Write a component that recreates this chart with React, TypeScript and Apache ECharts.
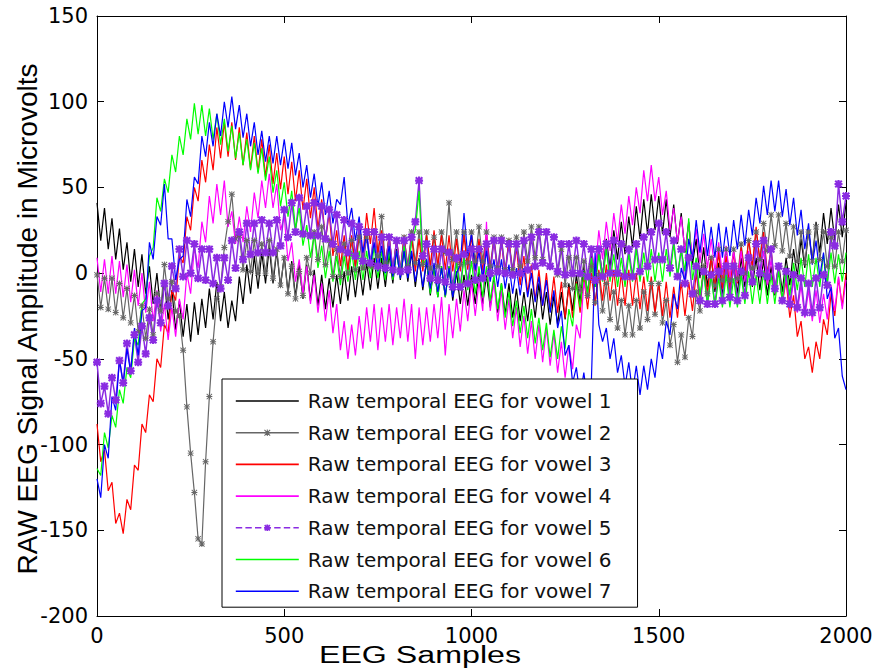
import React, { useEffect, useRef } from "react";
import * as echarts from "echarts";

const SAMPLES = [
  0, 10, 20, 30, 40, 50, 60, 70, 80, 90, 100, 110, 120, 130, 140, 150, 160, 170, 180, 190,
  200, 210, 220, 230, 240, 250, 260, 270, 280, 290, 300, 310, 320, 330, 340, 350, 360, 370, 380, 390,
  400, 410, 420, 430, 440, 450, 460, 470, 480, 490, 500, 510, 520, 530, 540, 550, 560, 570, 580, 590,
  600, 610, 620, 630, 640, 650, 660, 670, 680, 690, 700, 710, 720, 730, 740, 750, 760, 770, 780, 790,
  800, 810, 820, 830, 840, 850, 860, 870, 880, 890, 900, 910, 920, 930, 940, 950, 960, 970, 980, 990,
  1000, 1010, 1020, 1030, 1040, 1050, 1060, 1070, 1080, 1090, 1100, 1110, 1120, 1130, 1140, 1150, 1160, 1170, 1180, 1190,
  1200, 1210, 1220, 1230, 1240, 1250, 1260, 1270, 1280, 1290, 1300, 1310, 1320, 1330, 1340, 1350, 1360, 1370, 1380, 1390,
  1400, 1410, 1420, 1430, 1440, 1450, 1460, 1470, 1480, 1490, 1500, 1510, 1520, 1530, 1540, 1550, 1560, 1570, 1580, 1590,
  1600, 1610, 1620, 1630, 1640, 1650, 1660, 1670, 1680, 1690, 1700, 1710, 1720, 1730, 1740, 1750, 1760, 1770, 1780, 1790,
  1800, 1810, 1820, 1830, 1840, 1850, 1860, 1870, 1880, 1890, 1900, 1910, 1920, 1930, 1940, 1950, 1960, 1970, 1980, 1990,
  2000,
];

const VOWEL1 = [
  41, 19, 38, 14, 32, 8, 26, 2, 18, -5, 14, -8, 11, -12, 4, -18, 0, -22, -4, -27,
  -10, -33, -16, -37, -18, -40, -17, -36, -15, -32, -9, -27, -5, -28, -11, -32, -16, -28, -2, -18,
  5, -12, 10, -9, 12, -6, 15, -6, 13, -8, 10, -11, 7, -14, 5, -15, 5, -16, 2, -19,
  -1, -21, -3, -20, -1, -18, 1, -16, 4, -14, 4, -13, 6, -10, 9, -9, 9, -8, 11, -6,
  14, -4, 14, -5, 12, -8, 9, -10, 7, -13, 4, -14, 4, -14, 4, -16, 1, -18, -1, -19,
  -1, -18, 1, -18, -1, -20, -3, -23, -6, -24, -6, -26, -9, -28, -11, -28, -9, -26, -6, -27,
  -11, -30, -13, -30, -11, -27, -6, -22, -1, -17, 4, -12, 10, -8, 15, -2, 20, 3, 25, 8,
  30, 11, 33, 15, 39, 20, 43, 23, 46, 25, 45, 23, 43, 21, 40, 17, 35, 12, 30, 5,
  20, -3, 15, -8, 10, -11, 6, -13, 4, -14, 5, -12, 9, -8, 11, -8, 9, -10, 8, -13,
  4, -13, 6, -11, 9, -7, 14, -2, 20, 3, 25, 7, 30, 12, 35, 17, 38, 19, 40, 21,
  41,
];

const VOWEL2 = [
  -1, -20, -3, -21, -3, -23, -6, -26, -9, -29, -13, -34, -19, -38, -21, -36, -12, -22, 5, -15,
  -5, -22, -25, -45, -78, -105, -128, -155, -158, -110, -72, -40, -15, -8, 15, 30, 46, 20, 22, 2,
  19, 1, 19, 0, 17, 0, 19, -3, 14, -7, 9, -12, 4, -15, 1, -13, 9, 0, 24, 8,
  27, 5, 19, -2, 14, -2, 17, 0, 19, 2, 21, 3, 21, 4, 24, 10, 33, 6, 21, 2,
  19, 2, 21, 4, 24, 6, 24, 5, 24, 3, 21, 4, 24, 12, 41, 8, 24, 5, 24, 6,
  24, 7, 27, 7, 24, 4, 21, 3, 21, 2, 19, 2, 21, 4, 24, 7, 27, 9, 27, 8,
  24, 4, 21, -1, 14, -7, 9, -9, 9, -10, 7, -13, 4, -17, -1, -22, -6, -27, -11, -32,
  -16, -36, -19, -36, -16, -32, -11, -27, -6, -24, -6, -29, -16, -42, -30, -52, -36, -49, -26, -37,
  -11, -22, 4, -12, 9, -7, 14, -4, 14, -4, 14, -3, 17, 0, 19, 3, 24, 8, 29, 13,
  34, 16, 34, 13, 29, 10, 27, 7, 24, 6, 24, 7, 27, 8, 24, 4, 21, 4, 24, 7,
  25,
];

const VOWEL3 = [
  -88, -110, -103, -127, -122, -146, -140, -152, -132, -138, -112, -115, -88, -93, -71, -75, -50, -55, -30, -35,
  -10, -16, 10, 6, 33, 25, 50, 42, 66, 53, 75, 60, 85, 67, 88, 68, 88, 66, 85, 63,
  82, 61, 80, 59, 78, 56, 75, 52, 70, 49, 68, 46, 65, 42, 60, 37, 55, 32, 50, 26,
  43, 19, 35, 10, 25, 4, 22, 2, 22, 4, 25, 10, 35, 17, 38, 12, 25, 4, 22, 1,
  20, 1, 22, 2, 22, 1, 20, 1, 22, 4, 25, 4, 22, 2, 22, 1, 20, 1, 22, 2,
  22, 1, 20, 1, 22, 1, 20, -1, 18, -1, 20, -2, 15, -7, 10, -12, 5, -16, 2, -19,
  0, -21, -2, -23, -5, -26, -8, -26, -5, -23, -2, -21, 0, -19, 2, -16, 5, -16, 2, -19,
  0, -19, 2, -19, 0, -21, -2, -22, -2, -23, -5, -25, -5, -26, -8, -26, -5, -25, -5, -22,
  0, -17, 5, -12, 10, -9, 12, -9, 10, -9, 12, -6, 15, -2, 20, 4, 27, 7, 24, 0,
  14, -10, 4, -18, -4, -26, -13, -37, -28, -50, -43, -58, -40, -50, -27, -36, -12, -25, -3, -19,
  0,
];

const VOWEL4 = [
  9, -11, 8, -12, 10, -12, 7, -14, 5, -17, 2, -19, 0, -23, -5, -28, -10, -34, -18, -39,
  -20, -37, -15, -27, 0, -12, 15, 3, 30, 18, 45, 29, 52, 34, 54, 27, 36, 17, 33, 18,
  39, 24, 47, 32, 54, 38, 58, 38, 52, 25, 33, 7, 18, -5, 8, -12, 4, -18, -1, -23,
  -6, -28, -10, -35, -18, -45, -28, -50, -30, -48, -25, -44, -20, -40, -18, -45, -20, -40, -18, -42,
  -20, -38, -15, -40, -18, -50, -20, -42, -20, -40, -18, -38, -14, -48, -18, -38, -15, -34, -10, -28,
  -5, -25, -5, -22, 30, -22, -5, -28, -10, -33, -15, -38, -20, -43, -25, -47, -28, -50, -30, -52,
  -32, -54, -35, -58, -40, -61, -42, -56, -30, -38, -5, -15, 15, 0, 25, 8, 30, 13, 35, 18,
  40, 23, 45, 28, 50, 35, 60, 42, 63, 42, 56, 34, 48, 25, 38, 18, 33, 13, 28, 9,
  26, 6, 23, 3, 20, 1, 18, -1, 16, -3, 13, -5, 13, -5, 13, -4, 16, -3, 13, -7,
  8, -12, 3, -17, -2, -21, -4, -23, -7, -26, -10, -28, -10, -29, -12, -27, -7, -22, -2, -21,
  -4,
];

const VOWEL5 = [
  -52, -76, -66, -82, -61, -74, -51, -64, -41, -57, -36, -52, -31, -47, -26, -39, -16, -29, -6, -19,
  4, -9, 14, -2, 19, 0, 17, -3, 14, -4, 14, -6, 9, -9, 9, -4, 19, 3, 24, 8,
  29, 11, 29, 12, 31, 12, 29, 12, 31, 16, 37, 21, 41, 24, 44, 23, 39, 22, 41, 22,
  39, 20, 37, 17, 34, 14, 31, 12, 29, 10, 27, 7, 24, 6, 24, 4, 21, 3, 21, 2,
  19, 1, 19, 2, 21, 30, 54, 10, 17, -3, 14, -4, 14, -5, 12, -8, 9, -8, 11, -6,
  14, -4, 14, -3, 17, 0, 19, 1, 19, 0, 17, -1, 17, 0, 19, 2, 21, 4, 24, 6,
  24, 4, 21, 1, 17, -1, 17, 0, 19, 0, 17, -2, 14, -4, 14, -2, 17, 0, 19, 0,
  17, -2, 14, -2, 17, 1, 21, 4, 24, 8, 29, 8, 24, 3, 19, -2, 14, -6, 9, -12,
  4, -16, 1, -18, -1, -18, 1, -16, 4, -14, 4, -16, 1, -13, 9, -5, 17, 0, 19, -2,
  14, -9, 4, -16, 1, -18, -1, -20, -3, -23, -6, -23, -3, -20, -1, -7, 24, 16, 52, 30,
  45,
];

const VOWEL6 = [
  -114, -118, -93, -102, -83, -90, -68, -76, -55, -61, -38, -42, -18, -15, 10, 15, 44, 36, 55, 47,
  69, 59, 80, 69, 90, 78, 99, 81, 98, 80, 96, 78, 93, 75, 90, 71, 86, 67, 82, 63,
  78, 60, 76, 58, 73, 54, 68, 47, 60, 39, 53, 33, 48, 26, 38, 16, 28, 9, 23, 3,
  16, -3, 13, -5, 10, -7, 10, -5, 13, -4, 13, -4, 13, -3, 16, -3, 13, -4, 13, -4,
  13, -3, 16, 0, 18, 25, 48, 5, 8, -12, 4, -14, 4, -14, 4, -13, 6, -10, 9, -10,
  7, -12, 4, -14, 4, -16, -1, -21, -6, -26, -11, -31, -16, -35, -19, -38, -21, -41, -26, -45,
  -29, -49, -33, -50, -31, -44, -21, -31, -6, -20, 1, -13, 9, -8, 11, -5, 14, -5, 11, -8,
  9, -8, 11, -5, 14, -5, 12, -5, 14, -5, 12, -5, 14, -2, 17, -2, 14, 1, 32, -4,
  9, -13, 1, -18, -1, -20, -3, -20, -1, -20, -3, -20, -1, -18, 1, -18, -1, -18, 1, -18,
  -1, -18, 1, -15, 4, -13, 6, -10, 9, -8, 11, -8, 9, -8, 11, -6, 12, -6, 11, -5,
  12,
];

const VOWEL7 = [
  -120, -131, -100, -108, -72, -80, -50, -65, -44, -58, -32, -48, -22, -20, 18, 8, 33, 28, 52, 20,
  20, -4, 8, 10, 43, 33, 56, 52, 80, 68, 88, 74, 93, 80, 100, 85, 103, 84, 98, 79,
  93, 74, 88, 69, 83, 65, 80, 64, 80, 63, 78, 61, 76, 57, 70, 50, 63, 44, 58, 39,
  53, 34, 48, 29, 43, 40, 56, 28, 38, 19, 33, 12, 23, 4, 18, 1, 16, 0, 16, -2,
  13, -3, 13, -3, 13, -5, 8, -8, 8, -9, 6, -11, 3, -13, 3, -14, 0, 5, 35, 10,
  23, 2, 13, -3, 13, -5, 8, -8, 8, -9, 5, -12, 3, -13, 3, -14, 0, -17, -2, -19,
  -4, -23, -10, -32, -22, -48, -42, -64, -55, -72, -58, -75, -64, 12, -30, -40, -32, -50, -38, -58,
  -48, -66, -52, -70, -54, -71, -54, -68, -50, -61, -40, -50, -28, -36, -12, -21, 3, -5, 20, 8,
  31, 12, 31, 10, 27, 9, 29, 9, 27, 10, 31, 14, 34, 16, 37, 22, 44, 29, 51, 34,
  54, 36, 54, 33, 49, 28, 44, 22, 37, 14, 29, 5, 19, -2, 12, -15, -8, -38, -32, -60,
  -68,
];

const SERIES_NAMES = [
  "Raw temporal EEG for vowel 1",
  "Raw temporal EEG for vowel 2",
  "Raw temporal EEG for vowel 3",
  "Raw temporal EEG for vowel 4",
  "Raw temporal EEG for vowel 5",
  "Raw temporal EEG for vowel 6",
  "Raw temporal EEG for vowel 7",
];

const X_TITLE = "EEG Samples";
const Y_TITLE = "RAW EEG Signal Amplitude in Microvolts";

const ASTERISK_THIN =
  "path://M4.2 0H5.8V4.2H10V5.8H5.8V10H4.2V5.8H0V4.2H4.2Z" +
  "M1.1 0L5 3.9L8.9 0L10 1.1L6.1 5L10 8.9L8.9 10L5 6.1L1.1 10L0 8.9L3.9 5L0 1.1Z";

const ASTERISK_BOLD =
  "path://M3.6 0H6.4V3.6H10V6.4H6.4V10H3.6V6.4H0V3.6H3.6Z" +
  "M1.8 0L5 3.2L8.2 0L10 1.8L6.8 5L10 8.2L8.2 10L5 6.8L1.8 10L0 8.2L3.2 5L0 1.8Z";

export default function App() {
  const ref = useRef<HTMLDivElement>(null);

  useEffect(() => {
    if (!ref.current) return;
    const chart = echarts.init(ref.current, null, { renderer: "svg" });

    const pair = (vals: number[]) => vals.map((v, i) => [SAMPLES[i], v]);

    const defs = [
      { data: VOWEL1, color: "#000000", symbol: "none", size: 0, width: 1.2, legendDash: "solid" },
      { data: VOWEL2, color: "#666666", symbol: ASTERISK_THIN, size: 6, width: 1.2, legendDash: "solid" },
      { data: VOWEL3, color: "#ff0000", symbol: "none", size: 0, width: 1.2, legendDash: "solid" },
      { data: VOWEL4, color: "#ff00ff", symbol: "none", size: 0, width: 1.2, legendDash: "solid" },
      { data: VOWEL5, color: "#8a2be2", symbol: ASTERISK_BOLD, size: 8, width: 1.5, legendDash: "dashed" },
      { data: VOWEL6, color: "#00ff00", symbol: "none", size: 0, width: 1.2, legendDash: "solid" },
      { data: VOWEL7, color: "#0000ff", symbol: "none", size: 0, width: 1.2, legendDash: "solid" },
    ];

    const axisCommon = {
      splitLine: { show: false },
      axisLine: { show: true, onZero: false, lineStyle: { color: "#000", width: 1 } },
      axisTick: { show: true, inside: true, length: 7, lineStyle: { color: "#000", width: 1 } },
    };

    const labelStyle = {
      color: "#000",
      fontFamily: "DejaVu Sans",
      fontSize: 21,
      margin: 9,
      formatter: (v: number) => String(v),
    };

    chart.setOption({
      animation: false,
      backgroundColor: "#ffffff",
      grid: { left: 97, right: 33, top: 16, bottom: 55, containLabel: false },
      xAxis: [
        {
          type: "value",
          min: 0,
          max: 2000,
          interval: 500,
          position: "bottom",
          ...axisCommon,
          axisLabel: labelStyle,
        },
        {
          type: "value",
          min: 0,
          max: 2000,
          interval: 500,
          position: "top",
          ...axisCommon,
          axisLabel: { show: false },
        },
      ],
      yAxis: [
        {
          type: "value",
          min: -200,
          max: 150,
          interval: 50,
          position: "left",
          ...axisCommon,
          axisLabel: labelStyle,
        },
        {
          type: "value",
          min: -200,
          max: 150,
          interval: 50,
          position: "right",
          ...axisCommon,
          axisLabel: { show: false },
        },
      ],
      legend: {
        show: true,
        orient: "vertical",
        left: 222,
        top: 379,
        itemWidth: 63,
        itemHeight: 8,
        itemGap: 9.7,
        padding: [11, 26, 5, 13],
        backgroundColor: "#ffffff",
        borderColor: "#000000",
        borderWidth: 1,
        selectedMode: false,
        z: 10,
        textStyle: {
          fontFamily: "DejaVu Sans",
          fontSize: 20,
          color: "#111",
          lineHeight: 22,
          padding: [0, 0, 0, 4],
        },
        data: SERIES_NAMES.map((name, i) => {
          const d = defs[i];
          const lineStyle = { color: d.color, width: 1.6, type: d.legendDash, opacity: 1 };
          return d.symbol === "none"
            ? {
                name,
                lineStyle,
                itemStyle: { opacity: 0, color: "rgba(0,0,0,0)", borderWidth: 0 },
              }
            : { name, lineStyle, itemStyle: { color: d.color } };
        }),
      },
      graphic: [
        {
          type: "text",
          x: 27,
          y: 319,
          rotation: Math.PI / 2,
          style: {
            text: Y_TITLE,
            fontFamily: "Liberation Sans",
            fontSize: 28,
            fill: "#000",
            align: "center",
            verticalAlign: "middle",
          },
        },
        {
          type: "text",
          x: 420,
          y: 655,
          scaleX: 1.4,
          style: {
            text: X_TITLE,
            fontFamily: "Liberation Sans",
            fontSize: 23,
            fill: "#000",
            align: "center",
            verticalAlign: "middle",
          },
        },
      ],
      series: defs.map((d, i) => ({
        name: SERIES_NAMES[i],
        type: "line",
        xAxisIndex: 0,
        yAxisIndex: 0,
        data: pair(d.data),
        symbol: d.symbol,
        symbolSize: d.size,
        showSymbol: d.symbol !== "none",
        silent: true,
        lineStyle: { color: d.color, width: d.width, type: "solid" },
        itemStyle: { color: d.color },
      })),
    });

    return () => chart.dispose();
  }, []);

  return (
    <div
      ref={ref}
      style={{ position: "absolute", left: 0, top: 0, width: 879, height: 671 }}
    />
  );
}
